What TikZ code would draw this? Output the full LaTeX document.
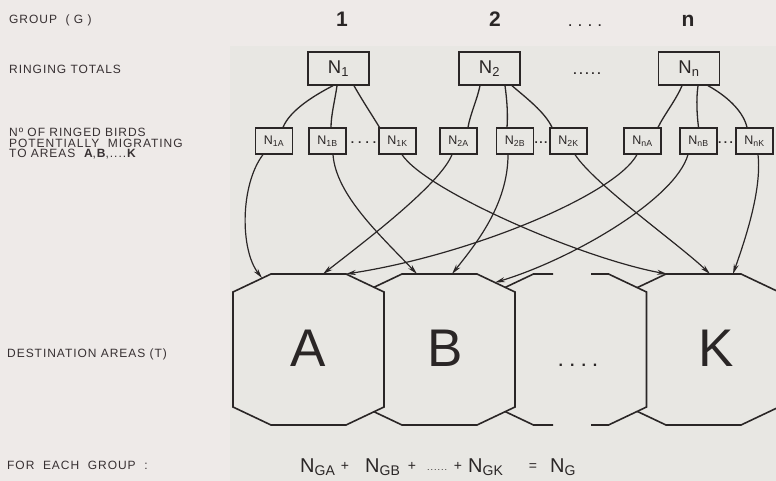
\documentclass[tikz,border=0pt]{standalone}
\usepackage{fontspec}
\setmainfont{Liberation Sans}
\newfontfamily\labfont{Liberation Sans}[LetterSpace=8]
\usetikzlibrary{arrows.meta}
\definecolor{ink}{RGB}{42,38,38}
\definecolor{txt}{RGB}{55,48,50}
\definecolor{bgl}{RGB}{238,234,232}
\definecolor{bgr}{RGB}{232,231,227}
\newcommand{\octshape}[2]{\path[#2,shift={(#1,0)}] (-37.5,274) -- (37.5,274) -- (75.5,292) -- (75.5,407) -- (37.5,425) -- (-37.5,425) -- (-75.5,407) -- (-75.5,292) -- cycle;}
\newcommand{\gdots}[2]{\foreach \k in {1,...,#1}{\ifnum\k>1\hspace{#2}\fi.}}
\begin{document}
\begin{tikzpicture}[x=1pt,y=-1pt,
  lab/.style={anchor=base west, text=txt, font=\labfont\fontsize{12}{11}\selectfont, inner sep=0pt},
  head/.style={anchor=base, text=ink, font=\bfseries\fontsize{21}{24}\selectfont, inner sep=0pt},
  bigbox/.style={draw=ink, line width=1.4pt, minimum width=61pt, minimum height=33pt, inner sep=0pt, font=\fontsize{18.5}{20}\selectfont, text=ink},
  smallbox/.style={draw=ink, line width=1.2pt, minimum width=37pt, minimum height=26pt, inner sep=0pt, font=\fontsize{12.5}{14}\selectfont, text=ink},
  link/.style={draw=ink, line width=1.3pt},
  arr/.style={draw=ink, line width=1.2pt, -{Stealth[length=10pt,width=5pt]}},
  octo/.style={draw=ink, line width=1.6pt, fill=bgr, line join=miter},
  area/.style={anchor=base, text=ink, font=\fontsize{53}{60}\selectfont, inner sep=0pt},
  eq/.style={anchor=base west, text=ink, font=\fontsize{20}{24}\selectfont, inner sep=0pt},
  op/.style={anchor=base, text=ink, font=\fontsize{14}{16}\selectfont, inner sep=0pt},
  dotrow/.style={anchor=base, text=ink, font=\bfseries\fontsize{12}{14}\selectfont, inner sep=0pt}
]
% background
\fill[bgl] (0,0) rectangle (776,481);
\fill[bgr] (230,46) rectangle (776,481);
\useasboundingbox (0,0) rectangle (776,481);

% left labels
\node[lab] (lg) at (9,23.5) {GROUP\ \ ( G )};
\node[lab] (lr) at (9,74) {RINGING\ TOTALS};
\node[lab] (ln1) at (9,137) {Nº\ OF\ RINGED\ BIRDS};
\node[lab] (ln2) at (9,147.5) {POTENTIALLY\ \ MIGRATING};
\node[lab] (ln3) at (9,158) {TO\ AREAS\ \ \textbf{A},\textbf{B},....\textbf{K}};
\node[lab] (ld) at (7,357) {DESTINATION\ AREAS (T)};
\node[lab] (lf) at (7,469) {FOR\ \ EACH\ \ GROUP\ \ :};

% headers
\node[head] (h1) at (342,27) {1};
\node[head] (h2) at (495,27) {2};
\node[dotrow] (hd) at (585,27) {\gdots{4}{6.5pt}};
\node[head] (hn) at (688,27) {n};

% ringing totals
\node[bigbox] (N1) at (338.5,68.5) {N\textsubscript{1}};
\node[bigbox] (N2) at (489.5,68.5) {N\textsubscript{2}};
\node[dotrow] (rd) at (587,75) {\gdots{5}{2.7pt}};
\node[bigbox] (Nn) at (689,68.5) {N\textsubscript{n}};

% potential migrants
\node[smallbox] (N1A) at (274,141) {N\textsubscript{1A}};
\node[smallbox] (N1B) at (327.5,141) {N\textsubscript{1B}};
\node[dotrow] (s1) at (363.5,143.5) {\gdots{4}{4pt}};
\node[smallbox] (N1K) at (397.5,141) {N\textsubscript{1K}};
\node[smallbox] (N2A) at (458.5,141) {N\textsubscript{2A}};
\node[smallbox] (N2B) at (515,141) {N\textsubscript{2B}};
\node[dotrow] (s2) at (541,143.5) {\gdots{3}{1.5pt}};
\node[smallbox] (N2K) at (568.5,141) {N\textsubscript{2K}};
\node[smallbox] (NnA) at (642.5,141) {N\textsubscript{nA}};
\node[smallbox] (NnB) at (698.5,141) {N\textsubscript{nB}};
\node[dotrow] (s3) at (725.5,143.5) {\gdots{3}{2.5pt}};
\node[smallbox] (NnK) at (754.5,141) {N\textsubscript{nK}};

% destination areas (back to front)
\octshape{703.5}{octo}
\octshape{571}{fill=bgr}
\draw[draw=ink, line width=1.6pt, line join=miter, shift={(571,0)}]
  (-18,274) -- (-37.5,274) -- (-75.5,292) -- (-75.5,407) -- (-37.5,425) -- (-18,425);
\draw[draw=ink, line width=1.6pt, line join=miter, shift={(571,0)}]
  (20,274) -- (37.5,274) -- (75.5,292) -- (75.5,407) -- (37.5,425) -- (20,425);
\octshape{439.5}{octo}
\octshape{308.5}{octo}

\node[area] (LA) at (308,366) {A};
\node[area] (LB) at (445,366) {B};
\node[dotrow, font=\bfseries\fontsize{16}{18}\selectfont] (LD) at (578,366) {\gdots{4}{7pt}};
\node[area] (LK) at (716,366) {K};

% arrow end points on the areas
\coordinate (tA1) at (262,278);
\coordinate (tA2) at (323,274);
\coordinate (tA3) at (346,274);
\coordinate (tB1) at (417,274);
\coordinate (tB2) at (452,274);
\coordinate (tB3) at (495,282.5);
\coordinate (tK1) at (667,274);
\coordinate (tK2) at (710,274);
\coordinate (tK3) at (733,274);

% totals -> potential migrants
\draw[link] ([xshift=-5.5pt]N1.south) .. controls (315,95) and (290,110) .. ([xshift=9pt]N1A.north);
\draw[link] ([xshift=-1.5pt]N1.south) .. controls (335,100) and (331,115) .. ([xshift=3.5pt]N1B.north);
\draw[link] ([xshift=15.5pt]N1.south) .. controls (362,100) and (372,115) .. ([xshift=-18pt]N1K.north);
\draw[link] ([xshift=-9.5pt]N2.south) .. controls (477,100) and (470,115) .. ([xshift=9.5pt]N2A.north);
\draw[link] ([xshift=15.5pt]N2.south) .. controls (507,100) and (508,115) .. ([xshift=-8pt]N2B.north);
\draw[link] ([xshift=22.5pt]N2.south) .. controls (525,97) and (545,112) .. ([xshift=-16.5pt]N2K.north);
\draw[link] ([xshift=-7pt]Nn.south) .. controls (676,100) and (664,115) .. ([xshift=15.5pt]NnA.north);
\draw[link] ([xshift=9pt]Nn.south) .. controls (696,100) and (697,115) .. (NnB.north);
\draw[link] ([xshift=19pt]Nn.south) .. controls (725,95) and (743,110) .. ([xshift=-7.5pt]NnK.north);

% potential migrants -> destination areas
\draw[arr] ([xshift=-11pt]N1A.south) .. controls (240,185) and (240,250) .. (tA1);
\draw[arr] ([xshift=5.5pt]N1B.south) .. controls (336,195) and (380,235) .. (tB1);
\draw[arr] ([xshift=4.5pt]N1K.south) .. controls (425,190) and (580,258) .. (tK1);
\draw[arr] ([xshift=-6.5pt]N2A.south) .. controls (440,185) and (360,245) .. (tA2);
\draw[arr] ([xshift=-7pt]N2B.south) .. controls (508,205) and (475,245) .. (tB2);
\draw[arr] ([xshift=6.5pt]N2K.south) .. controls (595,185) and (680,245) .. (tK2);
\draw[arr] ([xshift=-5.5pt]NnA.south) .. controls (615,195) and (470,255) .. (tA3);
\draw[arr] ([xshift=-10.5pt]NnB.south) .. controls (675,200) and (570,260) .. (tB3);
\draw[arr] ([xshift=3.5pt]NnK.south) .. controls (762,190) and (745,240) .. (tK3);

% equation
\node[eq] (e1) at (300,472) {N\textsubscript{GA}};
\node[op] (e2) at (345,470) {+};
\node[eq] (e3) at (365,472) {N\textsubscript{GB}};
\node[op] (e4) at (412,470) {+};
\node[dotrow, font=\fontsize{9}{10}\selectfont] (e5) at (437,470) {\gdots{6}{1pt}};
\node[op] (e6) at (458,470) {+};
\node[eq] (e7) at (468,472) {N\textsubscript{GK}};
\node[op] (e8) at (533,470) {=};
\node[eq] (e9) at (550,472) {N\textsubscript{G}};
\end{tikzpicture}
\end{document}
